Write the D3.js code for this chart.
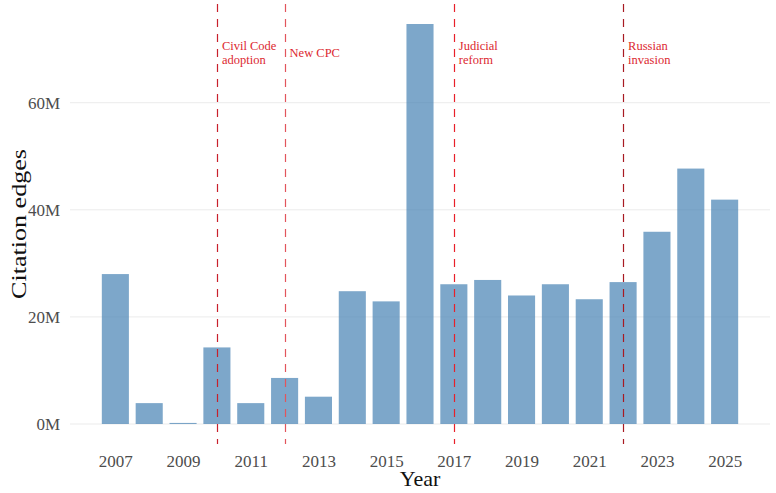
<!DOCTYPE html>
<html>
<head>
<meta charset="utf-8">
<script src="https://cdn.jsdelivr.net/npm/d3@7"></script>
<style>
  body { margin: 0; background: #fff; }
  text { font-family: "Liberation Serif", "DejaVu Serif", serif; }
</style>
</head>
<body>
<script>
const canvWidth = 776, canvHeight = 493;
const margin = {top: 4, right: 6, bottom: 49, left: 70};
const width = canvWidth - margin.left - margin.right;
const height = canvHeight - margin.top - margin.bottom;

// data
const years = [2007, 2008, 2009, 2010, 2011, 2012, 2013, 2014, 2015, 2016,
               2017, 2018, 2019, 2020, 2021, 2022, 2023, 2024, 2025];
const edgesM = [28.0, 3.9, 0.2, 14.3, 3.9, 8.6, 5.1, 24.8, 22.9, 74.7,
                26.1, 26.9, 24.0, 26.1, 23.3, 26.5, 35.9, 47.7, 41.9];
const xTicks = [2007, 2009, 2011, 2013, 2015, 2017, 2019, 2021, 2023, 2025];
const yTicks = [0, 20, 40, 60];
const eventYears = [2010, 2012, 2017, 2022];
const eventLabels = [["Civil Code", "adoption"], ["New CPC"], ["Judicial", "reform"], ["Russian", "invasion"]];
const eventColors = ["#c8202c", "#e2555c", "#e8202a", "#a81a22"];

const data = years.map((y, i) => ({year: y, value: edgesM[i]}));

const svg = d3.select("body").append("svg")
    .attr("width", canvWidth)
    .attr("height", canvHeight);

const chart = svg.append("g")
    .attr("transform", `translate(${margin.left},${margin.top})`);

// ggplot-like 5% expansion
const barW = 0.8;
const xMin = d3.min(years) - barW / 2, xMax = d3.max(years) + barW / 2;
const xPad = (xMax - xMin) * 0.05;
const xScale = d3.scaleLinear()
    .domain([xMin - xPad, xMax + xPad])
    .range([0, width]);

const yMax = d3.max(edgesM);
const yScale = d3.scaleLinear()
    .domain([-yMax * 0.05, yMax * 1.05])
    .range([height, 0]);

// grid
chart.append("g")
    .selectAll("line")
    .data(yTicks)
    .enter().append("line")
    .attr("x1", 0)
    .attr("x2", width)
    .attr("y1", d => yScale(d))
    .attr("y2", d => yScale(d))
    .attr("stroke", "#ebebeb")
    .attr("stroke-width", 1);

// axes (text only, like theme_minimal)
const yAxis = d3.axisLeft(yScale).tickValues(yTicks).tickFormat(d => d + "M").tickSize(0).tickPadding(10);
const xAxis = d3.axisBottom(xScale).tickValues(xTicks).tickFormat(d3.format("d")).tickSize(0).tickPadding(11);

const gy = chart.append("g").call(yAxis);
const gx = chart.append("g").attr("transform", `translate(0,${height})`).call(xAxis);
[gx, gy].forEach(g => {
    g.select(".domain").remove();
    g.selectAll("text")
        .attr("font-family", "Liberation Serif, serif")
        .attr("font-size", "17px")
        .attr("fill", "#4d4d4d");
});

// bars
chart.append("g")
    .selectAll("rect")
    .data(data)
    .enter().append("rect")
    .attr("x", d => xScale(d.year - barW / 2))
    .attr("width", xScale(barW) - xScale(0))
    .attr("y", d => yScale(d.value))
    .attr("height", d => yScale(0) - yScale(d.value))
    .attr("fill", "steelblue")
    .attr("fill-opacity", 0.7);

// event lines
const ev = chart.append("g");
ev.selectAll("line")
    .data(eventYears)
    .enter().append("line")
    .attr("x1", d => Math.round(xScale(d)) + 0.5)
    .attr("x2", d => Math.round(xScale(d)) + 0.5)
    .attr("y1", 0)
    .attr("y2", height)
    .attr("stroke", (d, i) => eventColors[i])
    .attr("stroke-width", 1.2)
    .attr("stroke-dasharray", "8,7");

// event labels, one text per line, centred vertically
eventYears.forEach((yr, i) => {
    const lines = eventLabels[i];
    const lh = 14.5;
    const cy = 50;
    lines.forEach((s, j) => {
        ev.append("text")
            .attr("x", xScale(yr) + 5)
            .attr("y", cy - (lines.length - 1) * lh / 2 + j * lh)
            .attr("font-size", "12.5px")
            .attr("fill", "#dc2830")
            .attr("dominant-baseline", "middle")
            .text(s);
    });
});

// axis titles
chart.append("text")
    .attr("x", width / 2)
    .attr("y", height + 42)
    .attr("font-size", "22px")
    .attr("fill", "#111")
    .style("text-anchor", "middle")
    .text("Year");

chart.append("text")
    .attr("transform", "rotate(-90)")
    .attr("x", -height / 2)
    .attr("y", 21 - margin.left)
    .attr("font-size", "22px")
    .attr("fill", "#111")
    .attr("textLength", 150)
    .attr("lengthAdjust", "spacingAndGlyphs")
    .style("text-anchor", "middle")
    .attr("dominant-baseline", "middle")
    .text("Citation edges");
</script>
</body>
</html>
